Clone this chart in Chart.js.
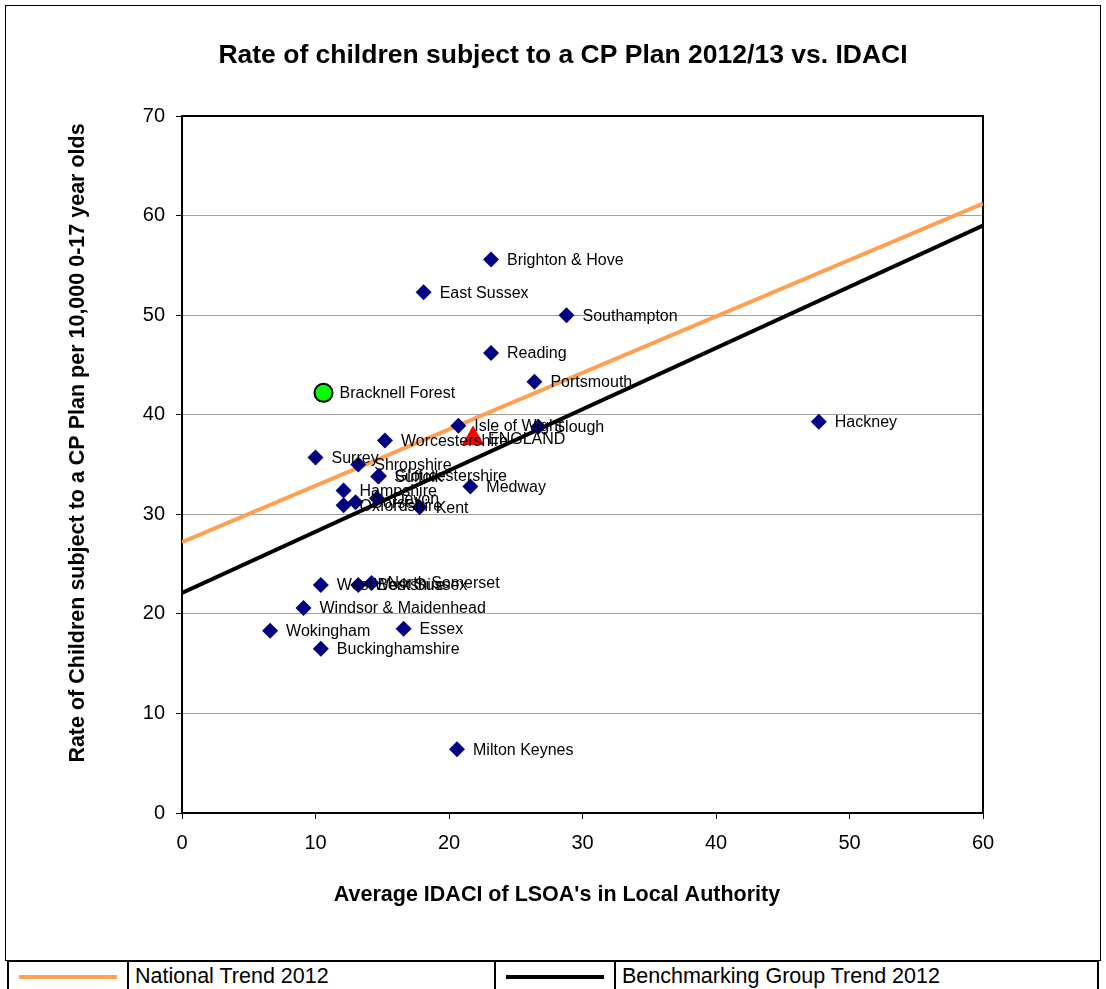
<!DOCTYPE html>
<html>
<head>
<meta charset="utf-8">
<script src="https://cdn.jsdelivr.net/npm/chart.js@4"></script>
<style>
  body { margin: 0; background: #fff; font-family: "Liberation Sans", Arial, sans-serif; }
  #frame { position: absolute; left: 5px; top: 5px; width: 1094px; height: 954px; border: 1px solid #000; }
  #wrap { position: absolute; left: 0; top: 0; width: 1106px; height: 958px; }
  #legend { position: absolute; left: 7px; top: 960px; width: 1092px; border-collapse: collapse; }
  #legend td { border: 2px solid #000; height: 32px; padding: 0 6px; font-size: 21.5px; vertical-align: top; padding-top: 2px; }
  .sample { height: 4px; margin: 11px 4px 0 4px; }
</style>
</head>
<body>
<div id="frame"></div>
<div id="wrap"><canvas id="chart"></canvas></div>
<table id="legend">
  <tr>
    <td style="width:106px"><div class="sample" style="background:#FF9F50"></div></td>
    <td style="width:353px">National Trend 2012</td>
    <td style="width:106px"><div class="sample" style="background:#000"></div></td>
    <td>Benchmarking Group Trend 2012</td>
  </tr>
</table>
<script>
// local authorities (IDACI, rate per 10,000)
const laNames = [
  "Brighton & Hove", "East Sussex", "Southampton", "Reading", "Portsmouth",
  "Hackney", "Isle of Wight", "Slough", "Worcestershire", "Surrey",
  "Shropshire", "Suffolk", "Gloucestershire", "Medway", "Hampshire",
  "Oxfordshire", "Dorset", "Devon", "Kent", "West Berkshire",
  "West Sussex", "North Somerset", "Windsor & Maidenhead", "Wokingham", "Essex",
  "Buckinghamshire", "Milton Keynes"
];
const laIdaci = [
  23.15, 18.1, 28.8, 23.15, 26.4,
  47.7, 20.7, 26.7, 15.2, 10.0,
  13.2, 14.7, 14.75, 21.6, 12.1,
  12.1, 13.0, 14.6, 17.8, 10.4,
  13.2, 14.2, 9.1, 6.6, 16.6,
  10.4, 20.6
];
const laRate = [
  55.6, 52.3, 50.0, 46.2, 43.3,
  39.3, 38.9, 38.8, 37.4, 35.7,
  35.0, 33.8, 33.85, 32.8, 32.4,
  30.9, 31.2, 31.6, 30.7, 22.9,
  22.9, 23.1, 20.6, 18.3, 18.5,
  16.5, 6.4
];

const englandPoint = { name: "ENGLAND", idaci: 21.8, rate: 37.6 };
const bracknellPoint = { name: "Bracknell Forest", idaci: 10.6, rate: 42.2 };

// trend lines, end points at x = 0 and x = 60
const trendX = [0, 60];
const nationalTrend = [27.2, 61.2];
const benchmarkTrend = [22.1, 59.0];

const xTicks = [0, 10, 20, 30, 40, 50, 60];
const yTicks = [0, 10, 20, 30, 40, 50, 60, 70];

const chartTitle = "Rate of children subject to a CP Plan 2012/13 vs. IDACI";
const xTitle = "Average IDACI of LSOA's in Local Authority";
const yTitle = "Rate of Children subject to a CP Plan per 10,000 0-17 year olds";

const FONT = '"Liberation Sans", Arial, sans-serif';

const laPoints = laNames.map((n, i) => ({ x: laIdaci[i], y: laRate[i], label: n }));

const decorations = {
  id: "decorations",
  beforeDatasetsDraw(chart) {
    const { ctx, chartArea: a } = chart;
    ctx.save();
    ctx.strokeStyle = "#000";
    ctx.lineWidth = 2;
    ctx.strokeRect(a.left, a.top, a.right - a.left, a.bottom - a.top);
    ctx.restore();
  },
  afterDatasetsDraw(chart) {
    const { ctx } = chart;
    ctx.save();
    ctx.fillStyle = "#000";
    ctx.font = "16px " + FONT;
    ctx.textBaseline = "middle";
    ctx.textAlign = "left";
    chart.data.datasets.forEach((ds, di) => {
      if (!ds.showLabels) return;
      const meta = chart.getDatasetMeta(di);
      meta.data.forEach((el, i) => {
        ctx.fillText(ds.data[i].label, el.x + ds.labelOffset, el.y + 1);
      });
    });
    ctx.restore();
  },
  afterDraw(chart) {
    const { ctx } = chart;
    ctx.save();
    ctx.fillStyle = "#000";
    ctx.textAlign = "center";
    ctx.textBaseline = "middle";
    ctx.font = "bold 26.5px " + FONT;
    ctx.fillText(chartTitle, 563, 56);
    ctx.font = "bold 21.5px " + FONT;
    ctx.fillText(xTitle, 557, 895);
    ctx.translate(78, 443);
    ctx.rotate(-Math.PI / 2);
    ctx.fillText(yTitle, 0, 0);
    ctx.restore();
  }
};

new Chart(document.getElementById("chart"), {
  type: "scatter",
  data: {
    datasets: [
      {
        label: "National Trend 2012",
        data: trendX.map((x, i) => ({ x: x, y: nationalTrend[i] })),
        showLine: true,
        borderColor: "#FF9F50",
        borderWidth: 4,
        pointRadius: 0,
        order: 10
      },
      {
        label: "Benchmarking Group Trend 2012",
        data: trendX.map((x, i) => ({ x: x, y: benchmarkTrend[i] })),
        showLine: true,
        borderColor: "#000000",
        borderWidth: 4,
        pointRadius: 0,
        order: 9
      },
      {
        label: "Local Authorities",
        data: laPoints,
        pointStyle: "rectRot",
        pointRadius: 8,
        backgroundColor: "#000080",
        borderColor: "#000080",
        borderWidth: 0,
        showLabels: true,
        labelOffset: 16,
        order: 3
      },
      {
        label: "England",
        data: [{ x: englandPoint.idaci, y: englandPoint.rate, label: englandPoint.name }],
        pointStyle: "triangle",
        pointRadius: 13,
        backgroundColor: "#FF0000",
        borderColor: "#FF0000",
        borderWidth: 0,
        showLabels: true,
        labelOffset: 15,
        order: 2
      },
      {
        label: "Bracknell Forest",
        data: [{ x: bracknellPoint.idaci, y: bracknellPoint.rate, label: bracknellPoint.name }],
        pointStyle: "circle",
        pointRadius: 9,
        backgroundColor: "#00FF00",
        borderColor: "#000000",
        borderWidth: 2,
        showLabels: true,
        labelOffset: 16,
        order: 1
      }
    ]
  },
  options: {
    responsive: true,
    maintainAspectRatio: false,
    animation: false,
    layout: { padding: { top: 116, left: 0, right: 123, bottom: 0 } },
    plugins: {
      legend: { display: false },
      tooltip: { enabled: false },
      title: { display: false }
    },
    scales: {
      x: {
        type: "linear",
        min: 0,
        max: 60,
        afterBuildTicks: (s) => { s.ticks = xTicks.map((v) => ({ value: v })); },
        afterFit: (s) => { s.height = 145; },
        grid: { drawOnChartArea: false, tickLength: 6, tickColor: "#000", tickWidth: 1 },
        border: { display: true, color: "#000", width: 2 },
        ticks: { color: "#000", font: { family: FONT, size: 20 }, padding: 12, maxRotation: 0 }
      },
      y: {
        type: "linear",
        min: 0,
        max: 70,
        afterBuildTicks: (s) => { s.ticks = yTicks.map((v) => ({ value: v })); },
        afterFit: (s) => { s.width = 182; },
        grid: { color: "#a0a0a0", lineWidth: 1, tickLength: 6, tickColor: "#000", tickWidth: 1 },
        border: { display: true, color: "#000", width: 2 },
        ticks: { color: "#000", font: { family: FONT, size: 20 }, padding: 11 }
      }
    }
  },
  plugins: [decorations]
});
</script>
</body>
</html>
